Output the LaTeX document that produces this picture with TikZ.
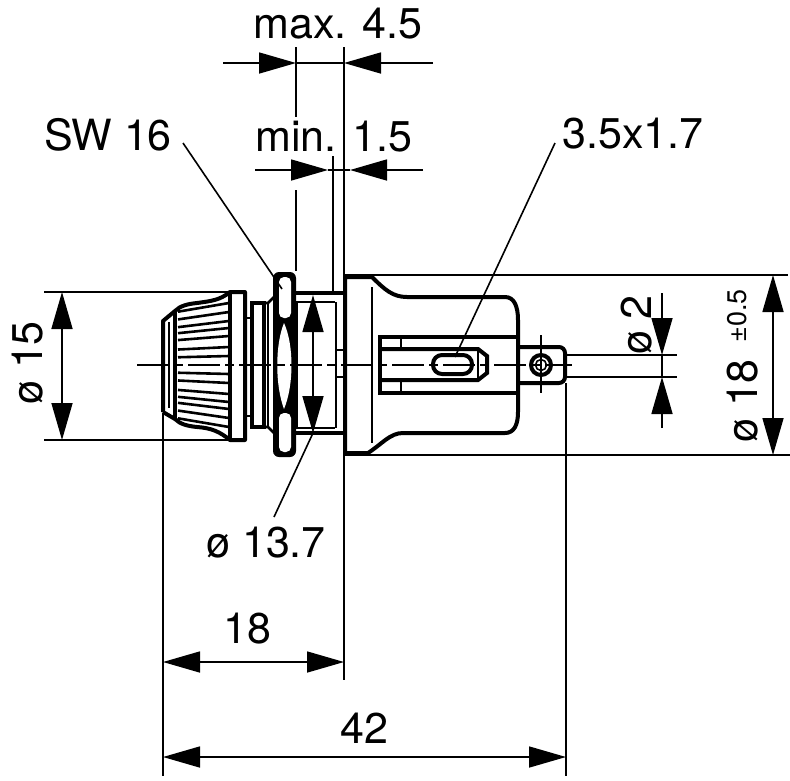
\documentclass[tikz,border=0pt]{standalone}
\usepackage{fontspec}
\setmainfont{TeX Gyre Heros}
\usetikzlibrary{arrows.meta}
\tikzset{
  thick line/.style={line width=4pt},
  mid line/.style={line width=2.6pt},
  thin line/.style={line width=1.6pt},
  dimline/.style={line width=1.6pt,>={Triangle[length=37pt,width=21pt]}},
  centreline/.style={line width=1.4pt,dash pattern=on 32pt off 5pt on 9pt off 5pt},
  dimtext/.style={inner sep=0pt,font=\fontsize{43}{45}\selectfont},
  smalltext/.style={inner sep=0pt,font=\fontsize{27}{29}\selectfont},
}
\begin{document}
\begin{tikzpicture}[x=1pt,y=-1pt]
	\useasboundingbox (0,0) rectangle (790,780);

	% Cap
	\draw[thick line,line join=round] (163,412) -- (163,321) -- (175,311) .. controls (180,306) and (187,304) .. (197,303) .. controls (212,301) and (220,300) .. (230,292) -- (245,292) -- (245,440) -- (230,440) .. controls (220,432) and (212,428) .. (197,427) .. controls (187,426) and (180,424) .. (175,419) -- (163,412);
	\draw[thick line] (175,311) -- (175,419);
	\draw[thick line] (230,292) -- (230,440);
	\draw[thin line] (169,322) -- (169,408);
	\foreach \d in {9,18,29,37,44,53,62} {
		\draw[mid line] (178,365-0.86*\d) -- (229,365-\d);
		\draw[mid line] (178,365+0.86*\d) -- (229,365+\d);
	}

	% Neck and washer
	\draw[mid line] (245,318) -- (252,318);
	\draw[mid line] (245,416) -- (252,416);
	\draw[thick line] (252,303) rectangle (264,427);
	\draw[mid line] (264,303) -- (268,303) -- (275,296);
	\draw[mid line] (264,427) -- (268,427) -- (275,434);
	\draw[mid line] (268,303) -- (268,427);

	% Nut
	\fill[rounded corners=6pt] (273,272) rectangle (296,457);
	\fill[white,rounded corners=5pt] (279,277) rectangle (291,318);
	\fill[white,rounded corners=5pt] (279,413) rectangle (291,452);
	\fill[white] (284,323) .. controls (275,345) and (275,385) .. (284,409) .. controls (294,385) and (294,345) .. (284,323);

	% Thread
	\draw[thick line] (296,293) -- (345,293);
	\draw[thick line] (296,433) -- (345,433);
	\draw[mid line] (296,302) -- (335,302);
	\draw[mid line] (296,428) -- (335,428);
	\draw[mid line] (297,302) -- (297,428);
	\draw[mid line] (336,302) -- (336,428);
	\draw[mid line] (336,350) -- (345,350);
	\draw[mid line] (336,377) -- (345,377);

	% Body
	\draw[thick line,line join=round] (345,453) -- (345,277) -- (372,277) .. controls (385,290) and (393,297) .. (407,297) -- (505,297) .. controls (514,297) and (518,306) .. (518,320) -- (518,412) .. controls (518,425) and (514,433) .. (505,433) -- (403,433) .. controls (390,433) and (382,444) .. (368,453) -- cycle;
	\draw[thin line] (372,287) -- (372,443);

	% Blade housing
	\draw[thick line] (518,337) -- (380,337) -- (380,393) -- (518,393);
	\draw[mid line] (401,337) -- (401,349);
	\draw[mid line] (401,381) -- (401,393);
	\draw[thick line] (380,349) -- (478,349) -- (487,356) -- (487,373) -- (478,380) -- (380,380);
	\draw[mid line] (478,349) -- (478,380);
	\draw[thick line,rounded corners=9pt] (433,355) rectangle (472,374);

	% Solder tab
	\draw[thick line,rounded corners=6pt] (518,347) -- (565,347) -- (565,383) -- (518,383);
	\draw[thick line] (541,365) circle (10);
	\draw[thin line] (541,365) circle (5.5);
	\draw[thin line] (541,335) -- (541,393);

	% Centre line
	\draw[centreline] (137,365) -- (572,365);

	% max. 4.5
	\draw[thin line] (296,47) -- (296,117);
	\draw[thin line] (344,47) -- (344,680);
	\draw[thin line] (296,190) -- (296,271);
	\draw[dimline,->] (223,63) -- (296,63);
	\draw[dimline,->] (433,63) -- (344,63);
	\draw[thin line] (296,63) -- (344,63);
	\node[dimtext] (maxlabel) at (338,24) {max. 4.5};

	% min. 1.5
	\draw[thin line] (333,156) -- (333,293);
	\draw[dimline,->] (255,170) -- (328,170);
	\draw[dimline,->] (423,170) -- (350,170);
	\draw[thin line] (328,170) -- (350,170);
	\node[dimtext] (minlabel) at (334,137) {min. 1.5};

	% SW 16
	\node[dimtext] (swlabel) at (108,135) {SW 16};
	\draw[thin line] (183,143) -- (282,289);

	% 3.5x1.7
	\node[dimtext] (bladelabel) at (633,134) {3.5x1.7};
	\draw[thin line] (555,143) -- (455,357);

	% dia 15
	\draw[thin line] (44,292) -- (230,292);
	\draw[thin line] (44,440) -- (230,440);
	\draw[dimline,<->] (62,292) -- (62,440);
	\node[dimtext,rotate=90] (dialabel) at (28,363) {ø 15};

	% dia 13.7
	\draw[dimline,<->] (313,295) -- (313,433);
	\draw[thin line] (313,433) -- (274,517);
	\node[dimtext] (threadlabel) at (266,543) {ø 13.7};

	% 18
	\draw[thin line] (163,413) -- (163,776);
	\draw[dimline,<->] (163,662) -- (344,662);
	\node[dimtext] (lenlabel) at (247,629) {18};

	% 42
	\draw[thin line] (566,383) -- (566,776);
	\draw[dimline,<->] (163,757) -- (566,757);
	\node[dimtext] (totallabel) at (364,728) {42};

	% dia 2
	\draw[thin line] (565,355) -- (677,355);
	\draw[thin line] (565,377) -- (677,377);
	\draw[dimline,->] (662,293) -- (662,355);
	\draw[dimline,->] (662,428) -- (662,377);
	\draw[thin line] (662,355) -- (662,377);
	\node[dimtext,rotate=90] (pinlabel) at (637,325) {ø 2};

	% dia 18
	\draw[thin line] (345,275) -- (788,275);
	\draw[thin line] (345,455) -- (790,455);
	\draw[dimline,<->] (773,275) -- (773,455);
	\node[dimtext,rotate=90] (bodylabel) at (743,401) {ø 18};
	\node[smalltext,rotate=90] (tollabel) at (737,316) {±0.5};
\end{tikzpicture}
\end{document}
